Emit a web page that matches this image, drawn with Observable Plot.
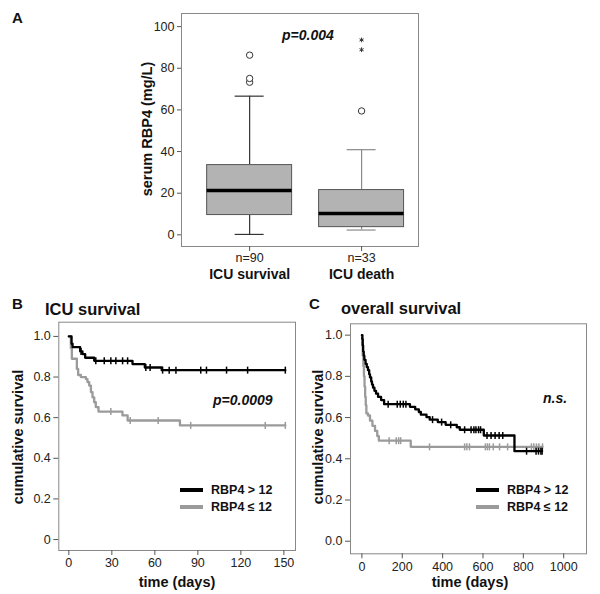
<!DOCTYPE html>
<html>
<head>
<meta charset="utf-8">
<script src="https://cdn.jsdelivr.net/npm/d3@7"></script>
<script src="https://cdn.jsdelivr.net/npm/@observablehq/plot@0.6"></script>
<style>
  html, body { margin: 0; padding: 0; background: #fff; }
  #wrap { position: relative; width: 600px; height: 594px; font-family: "Liberation Sans", Arial, sans-serif; color: #111; }
  #wrap svg { position: absolute; overflow: visible; }
  .lbl { position: absolute; white-space: nowrap; line-height: 1; }
  .b { font-weight: bold; }
  .bi { font-weight: bold; font-style: italic; }
  .rot { transform: translate(-50%, -50%) rotate(-90deg); }
  .leg { position: absolute; height: 4px; }
</style>
</head>
<body>
<div id="wrap"></div>
<script>
// ---------- Panel A data (box plot) ----------
const groups = ["ICU survival", "ICU death"];
const groupN = [90, 33];
const boxQ1 = [9.5, 3.7];
const boxMedian = [21.3, 10.2];
const boxQ3 = [33.5, 21.5];
const whiskerLow = [0.2, 2.3];
const whiskerHigh = [66.6, 40.9];
const whiskerColor = ["#333", "#8a8a8a"];
const outlierGroup = ["ICU survival", "ICU survival", "ICU survival", "ICU death"];
const outlierValue = [73.3, 75.1, 86.3, 59.5];
const extremeGroup = ["ICU death", "ICU death"];
const extremeValue = [88.9, 93.6];
const yTicksA = [0, 20, 40, 60, 80, 100];

// ---------- Panel B data (ICU survival, Kaplan-Meier) ----------
const bHighTime = [0, 1.9, 2.6, 7.9, 9.5, 11.4, 17.7, 44.4, 53, 64.8, 151];
const bHighSurv = [1, 0.964, 0.947, 0.926, 0.913, 0.895, 0.88, 0.864, 0.847, 0.834, 0.834];
const bHighCensor = [8.5, 18.8, 24.7, 29.3, 32.8, 37.5, 41, 53.7, 56.7, 65.4, 70, 74.7, 92, 96, 110, 124.7, 151];
const bLowTime = [0, 1.4, 2.1, 5.6, 6.5, 8.4, 11.9, 13, 14.2, 15.4, 16.5, 17.7, 18.8, 20.7, 37.4, 41, 77.5, 151];
const bLowSurv = [1, 0.942, 0.89, 0.84, 0.81, 0.80, 0.79, 0.775, 0.758, 0.726, 0.70, 0.676, 0.652, 0.63, 0.611, 0.586, 0.562, 0.562];
const bLowCensor = [29.3, 42.8, 62.3, 85, 137, 151];
const bXTicks = [0, 30, 60, 90, 120, 150];

// ---------- Panel C data (overall survival, Kaplan-Meier) ----------
const cHighTime = [0, 2, 4, 6, 9, 12, 18, 24, 30, 36, 40, 46, 50, 55, 62, 70, 80, 95, 110, 238, 264, 282, 292, 320, 336, 376, 415, 470, 485, 604, 756, 893];
const cHighSurv = [1, 0.98, 0.95, 0.92, 0.90, 0.88, 0.86, 0.845, 0.83, 0.81, 0.795, 0.775, 0.76, 0.745, 0.73, 0.716, 0.70, 0.685, 0.665, 0.652, 0.64, 0.627, 0.614, 0.602, 0.59, 0.578, 0.565, 0.553, 0.541, 0.513, 0.437, 0.437];
const cHighCensor = [130, 175, 190, 205, 218, 350, 395, 440, 509, 541, 555, 565, 578, 588, 620, 640, 660, 680, 698, 816, 863, 875, 887, 893];
const cLowTime = [0, 2, 4, 7, 10, 13, 16, 19, 22, 30, 40, 52, 65, 76, 84, 242, 895];
const cLowSurv = [1, 0.95, 0.90, 0.85, 0.80, 0.75, 0.70, 0.66, 0.62, 0.61, 0.585, 0.56, 0.535, 0.51, 0.488, 0.458, 0.458];
const cLowCensor = [135, 170, 182, 192, 335, 509, 520, 533, 612, 622, 632, 651, 682, 722, 840, 852, 865, 877, 895];
const cXTicks = [0, 200, 400, 600, 800, 1000];

const survTicks = [0, 0.2, 0.4, 0.6, 0.8, 1.0];

// ---------- helpers ----------
const wrap = document.getElementById("wrap");
const FONT = '"Liberation Sans", Arial, sans-serif';
function place(svg, left, top) {
  svg.style.left = left + "px";
  svg.style.top = top + "px";
  wrap.appendChild(svg);
}
function label(text, cls, css) {
  const d = document.createElement("div");
  d.className = "lbl " + cls;
  d.textContent = text;
  Object.assign(d.style, css);
  wrap.appendChild(d);
  return d;
}
function series(times, surv) { return times.map((t, i) => ({t, s: surv[i]})); }
function survAt(times, surv, t) {
  let v = surv[0];
  for (let i = 0; i < times.length; i++) if (times[i] <= t) v = surv[i];
  return v;
}
function censor(times, surv, cens) { return cens.map(t => ({t, s: survAt(times, surv, t)})); }
const vbar = { draw(ctx) { ctx.moveTo(0, -3.5); ctx.lineTo(0, 3.5); } };

// ---------- Panel A ----------
const boxes = groups.map((g, i) => ({
  g, n: groupN[i], q1: boxQ1[i], med: boxMedian[i], q3: boxQ3[i],
  lo: whiskerLow[i], hi: whiskerHigh[i], wc: whiskerColor[i]
}));
const outliers = outlierGroup.map((g, i) => ({g, v: outlierValue[i]}));
const extremes = extremeGroup.map((g, i) => ({g, v: extremeValue[i]}));

const plotA = Plot.plot({
  width: 430, height: 290,
  marginLeft: 181, marginRight: 12, marginTop: 13, marginBottom: 44,
  style: {fontFamily: FONT, fontSize: "12.5px", color: "#222", background: "transparent"},
  x: {type: "band", domain: groups, paddingInner: 0.241, paddingOuter: 0.179, align: 0.64, round: false, axis: null},
  y: {domain: [-5.6, 106.3], axis: null},
  marks: [
    Plot.frame({stroke: "#888"}),
    Plot.axisY({ticks: yTicksA, tickSize: 4, tickPadding: 3, label: null, stroke: "#555"}),
    Plot.axisX({tickSize: 5, tickPadding: 2, label: null, stroke: "#555", tickFormat: (d) => "n=" + groupN[groups.indexOf(d)]}),
    Plot.text(groups, {x: d => d, frameAnchor: "bottom", dy: 32, text: d => d, fontWeight: "bold", fontSize: 14, fill: "#111"}),
    Plot.ruleX(boxes, {x: "g", y1: "hi", y2: "q3", stroke: "wc", strokeWidth: 1.2}),
    Plot.ruleX(boxes, {x: "g", y1: "q1", y2: "lo", stroke: "wc", strokeWidth: 1.2}),
    Plot.tickY(boxes, {x: "g", y: "hi", stroke: "wc", strokeWidth: 1.2, insetLeft: 28, insetRight: 28}),
    Plot.tickY(boxes, {x: "g", y: "lo", stroke: "wc", strokeWidth: 1.2, insetLeft: 28, insetRight: 28}),
    Plot.barY(boxes, {x: "g", y1: "q1", y2: "q3", fill: "#b3b3b3", stroke: "#555", strokeWidth: 1}),
    Plot.tickY(boxes, {x: "g", y: "med", stroke: "#000", strokeWidth: 3.5}),
    Plot.dot(outliers, {x: "g", y: "v", r: 3.2, stroke: "#333", fill: "white", strokeWidth: 1}),
    Plot.dot(extremes, {x: "g", y: "v", symbol: "asterisk", r: 2.2, stroke: "#333", strokeWidth: 1})
  ]
});
place(plotA, 0, 0);
label("A", "b", {left: "12px", top: "10px", fontSize: "15px"});
label("serum RBP4 (mg/L)", "b rot", {left: "147px", top: "129px", fontSize: "14.5px"});
label("p=0.004", "bi", {left: "282px", top: "28px", fontSize: "14px"});

// ---------- KM panel builder ----------
function kmPanel(opts) {
  return Plot.plot({
    width: 300, height: 304,
    marginLeft: opts.ml, marginRight: opts.mr, marginTop: opts.mt, marginBottom: opts.mb,
    style: {fontFamily: FONT, fontSize: "12.5px", color: "#222", background: "transparent"},
    x: {domain: opts.xd, axis: null},
    y: {domain: opts.yd, axis: null},
    marks: [
      Plot.frame({stroke: "#888"}),
      Plot.axisY({ticks: survTicks, tickSize: 5, tickPadding: 3, label: null, stroke: "#555", tickFormat: opts.yfmt}),
      Plot.axisX({ticks: opts.xticks, tickSize: 5, tickPadding: 3, label: null, stroke: "#555", tickFormat: d => String(d)}),
      Plot.line(opts.low, {x: "t", y: "s", curve: "step-after", stroke: "#9b9b9b", strokeWidth: 2.3}),
      Plot.dot(opts.lowC, {x: "t", y: "s", symbol: vbar, stroke: "#9b9b9b", strokeWidth: 1.5, fill: "none"}),
      Plot.line(opts.high, {x: "t", y: "s", curve: "step-after", stroke: "#000", strokeWidth: 2.3}),
      Plot.dot(opts.highC, {x: "t", y: "s", symbol: vbar, stroke: "#000", strokeWidth: 1.5, fill: "none"})
    ]
  });
}

// ---------- Panel B ----------
const plotB = kmPanel({
  ml: 58.3, mr: 5, mt: 31.7, mb: 44,
  xd: [-7.0, 158.1], yd: [-0.054, 1.070], xticks: bXTicks,
  yfmt: d => d === 0 ? "0" : d.toFixed(1),
  high: series(bHighTime, bHighSurv), highC: censor(bHighTime, bHighSurv, bHighCensor),
  low: series(bLowTime, bLowSurv), lowC: censor(bLowTime, bLowSurv, bLowCensor)
});
place(plotB, 0, 290);
label("B", "b", {left: "12px", top: "296px", fontSize: "15px"});
label("ICU survival", "b", {left: "45px", top: "301px", fontSize: "16.5px"});
label("cumulative survival", "b rot", {left: "18px", top: "437px", fontSize: "14.5px"});
label("time (days)", "b", {left: "177px", top: "575px", fontSize: "14.5px", transform: "translateX(-50%)"});
label("p=0.0009", "bi", {left: "213px", top: "393px", fontSize: "14px"});
const lb1 = document.createElement("div"); lb1.className = "leg";
Object.assign(lb1.style, {left: "180px", top: "488px", width: "23px", background: "#000"}); wrap.appendChild(lb1);
const lb2 = document.createElement("div"); lb2.className = "leg";
Object.assign(lb2.style, {left: "180px", top: "505px", width: "23px", background: "#9b9b9b"}); wrap.appendChild(lb2);
label("RBP4 > 12", "b", {left: "211px", top: "484px", fontSize: "12.5px"});
label("RBP4 \u2264 12", "b", {left: "211px", top: "501px", fontSize: "12.5px"});

// ---------- Panel C ----------
const plotC = kmPanel({
  ml: 50, mr: 14, mt: 33.3, mb: 40.7,
  xd: [-56.6, 1113], yd: [-0.061, 1.055], xticks: cXTicks,
  yfmt: d => d.toFixed(1),
  high: series(cHighTime, cHighSurv), highC: censor(cHighTime, cHighSurv, cHighCensor),
  low: series(cLowTime, cLowSurv), lowC: censor(cLowTime, cLowSurv, cLowCensor)
});
place(plotC, 300, 290);
label("C", "b", {left: "309px", top: "296px", fontSize: "15px"});
label("overall survival", "b", {left: "341px", top: "300px", fontSize: "16.5px"});
label("cumulative survival", "b rot", {left: "318px", top: "437px", fontSize: "14.5px"});
label("time (days)", "b", {left: "470px", top: "575px", fontSize: "14.5px", transform: "translateX(-50%)"});
label("n.s.", "bi", {left: "543px", top: "391px", fontSize: "14px"});
const lc1 = document.createElement("div"); lc1.className = "leg";
Object.assign(lc1.style, {left: "476px", top: "488px", width: "23px", background: "#000"}); wrap.appendChild(lc1);
const lc2 = document.createElement("div"); lc2.className = "leg";
Object.assign(lc2.style, {left: "476px", top: "505px", width: "23px", background: "#9b9b9b"}); wrap.appendChild(lc2);
label("RBP4 > 12", "b", {left: "507px", top: "484px", fontSize: "12.5px"});
label("RBP4 \u2264 12", "b", {left: "507px", top: "501px", fontSize: "12.5px"});
</script>
</body>
</html>
